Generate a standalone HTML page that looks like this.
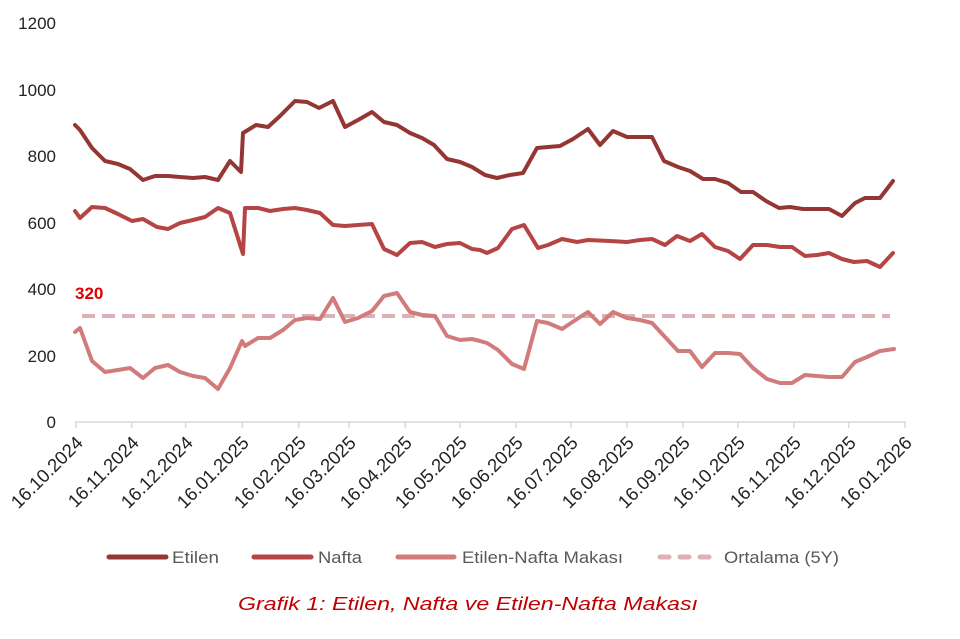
<!DOCTYPE html>
<html><head><meta charset="utf-8"><style>
body{margin:0;background:#fff;}
svg{display:block;font-family:"Liberation Sans",sans-serif;}
</style></head><body>
<svg width="960" height="639" viewBox="0 0 960 639" xmlns="http://www.w3.org/2000/svg">
<g font-size="17" fill="#222" text-anchor="end">
<text x="56" y="29">1200</text>
<text x="56" y="96">1000</text>
<text x="56" y="162">800</text>
<text x="56" y="229">600</text>
<text x="56" y="295">400</text>
<text x="56" y="362">200</text>
<text x="56" y="428">0</text>
</g>
<line x1="75" y1="422" x2="906" y2="422" stroke="#d9d9d9" stroke-width="1.5"/>
<g stroke="#d9d9d9" stroke-width="1.5">
<line x1="76" y1="422" x2="76" y2="428"/><line x1="131.7" y1="422" x2="131.7" y2="428"/><line x1="185.7" y1="422" x2="185.7" y2="428"/><line x1="242.3" y1="422" x2="242.3" y2="428"/><line x1="298.7" y1="422" x2="298.7" y2="428"/><line x1="349" y1="422" x2="349" y2="428"/><line x1="405.3" y1="422" x2="405.3" y2="428"/><line x1="460" y1="422" x2="460" y2="428"/><line x1="516" y1="422" x2="516" y2="428"/><line x1="571" y1="422" x2="571" y2="428"/><line x1="627" y1="422" x2="627" y2="428"/><line x1="683" y1="422" x2="683" y2="428"/><line x1="738" y1="422" x2="738" y2="428"/><line x1="794" y1="422" x2="794" y2="428"/><line x1="848.7" y1="422" x2="848.7" y2="428"/><line x1="905" y1="422" x2="905" y2="428"/>
</g>
<g font-size="18.5" fill="#222" text-anchor="end">
<text transform="translate(84,444) rotate(-45)">16.10.2024</text>
<text transform="translate(140,444) rotate(-45)">16.11.2024</text>
<text transform="translate(194,444) rotate(-45)">16.12.2024</text>
<text transform="translate(250,444) rotate(-45)">16.01.2025</text>
<text transform="translate(307,444) rotate(-45)">16.02.2025</text>
<text transform="translate(357,444) rotate(-45)">16.03.2025</text>
<text transform="translate(413,444) rotate(-45)">16.04.2025</text>
<text transform="translate(468,444) rotate(-45)">16.05.2025</text>
<text transform="translate(524,444) rotate(-45)">16.06.2025</text>
<text transform="translate(579,444) rotate(-45)">16.07.2025</text>
<text transform="translate(635,444) rotate(-45)">16.08.2025</text>
<text transform="translate(691,444) rotate(-45)">16.09.2025</text>
<text transform="translate(746,444) rotate(-45)">16.10.2025</text>
<text transform="translate(802,444) rotate(-45)">16.11.2025</text>
<text transform="translate(857,444) rotate(-45)">16.12.2025</text>
<text transform="translate(913,444) rotate(-45)">16.01.2026</text>
</g>
<line x1="82" y1="316" x2="890" y2="316" stroke="#dcb0b4" stroke-width="4" stroke-dasharray="13,7"/>
<text x="75" y="299" font-size="17" font-weight="bold" fill="#e00000">320</text>
<g fill="none" stroke-width="4" stroke-linejoin="round" stroke-linecap="round">
<polyline stroke="#943634" points="75,125 80,130 92,148 105,161 118,164 130,169 143,180 155,176 168,176 180,177 193,178 205,177 218,180 230,161 241,172 243,133 256,125 268,127 280,116 295,101 307,102 319,108 333,101 345,127 358,120 372,112 384,122 397,125 410,133 422,138 434,145 447,159 460,162 472,167 485,175 497,178 510,175 523,173 537,148 548,147 560,146 573,139 588,129 600,145 613,131 627,137 640,137 652,137 664,161 678,167 690,171 703,179 715,179 728,183 741,192 753,192 766,201 779,208 790,207 803,209 815,209 829,209 842,216 855,203 865,198 880,198 893,181"/>
<polyline stroke="#b54444" points="75,211 80,218 92,207 105,208 118,214 132,221 143,219 157,227 168,229 180,223 193,220 205,217 218,208 230,213 243,254 245,208 258,208 270,211 283,209 295,208 307,210 320,213 333,225 345,226 358,225 372,224 384,249 397,255 410,243 422,242 435,247 447,244 460,243 472,249 480,250 487,253 498,248 512,229 524,225 538,248 548,245 562,239 577,242 588,240 610,241 627,242 640,240 652,239 665,245 677,236 690,241 702,234 715,247 728,251 740,259 753,245 767,245 780,247 792,247 805,256 817,255 829,253 842,259 854,262 867,261 880,267 893,253"/>
<polyline stroke="#d17b7b" points="75,332 80,328 92,361 105,372 118,370 130,368 143,378 155,368 168,365 180,372 193,376 205,378 218,389 230,368 242,341 245,346 258,338 270,338 283,330 295,320 307,318 320,319 333,298 345,322 358,318 372,311 384,296 397,293 410,312 422,315 435,316 447,336 460,340 472,339 480,341 487,343 498,350 512,364 524,369 537,321 548,323 562,329 577,319 588,312 600,324 613,312 627,318 640,320 652,323 665,337 678,351 690,351 702,367 715,353 728,353 740,354 753,368 767,379 780,383 792,383 805,375 829,377 842,377 855,362 867,357 880,351 894,349"/>
</g>
<g stroke-width="5" stroke-linecap="round">
<line x1="109" y1="557" x2="166" y2="557" stroke="#943634"/>
<line x1="254" y1="557" x2="311" y2="557" stroke="#b54444"/>
<line x1="398" y1="557" x2="454" y2="557" stroke="#d17b7b"/>
<line x1="660" y1="557" x2="712" y2="557" stroke="#dcb0b4" stroke-dasharray="9,11"/>
</g>
<g font-size="17" fill="#595959">
<text x="172" y="563" textLength="47" lengthAdjust="spacingAndGlyphs">Etilen</text>
<text x="318" y="563" textLength="44" lengthAdjust="spacingAndGlyphs">Nafta</text>
<text x="462" y="563" textLength="161" lengthAdjust="spacingAndGlyphs">Etilen-Nafta Makası</text>
<text x="724" y="563" textLength="115" lengthAdjust="spacingAndGlyphs">Ortalama (5Y)</text>
</g>
<text x="238" y="610" font-size="18" font-style="italic" fill="#c00000" textLength="460" lengthAdjust="spacingAndGlyphs">Grafik 1: Etilen, Nafta ve Etilen-Nafta Makası</text>
</svg>
</body></html>
